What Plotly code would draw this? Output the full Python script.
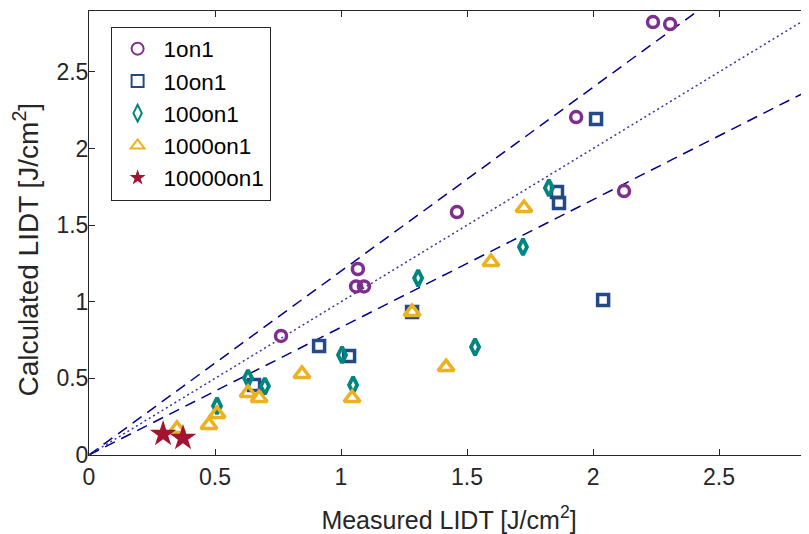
import plotly.graph_objects as go

# ---- data ----
x_1on1 = [2.238, 2.306, 1.933, 2.123, 1.460, 1.067, 1.060, 1.091, 0.762]
y_1on1 = [2.826, 2.813, 2.206, 1.723, 1.586, 1.214, 1.100, 1.100, 0.777]

x_10on1 = [2.012, 1.857, 1.865, 2.040, 1.282, 0.913, 1.032, 0.655]
y_10on1 = [2.193, 1.717, 1.645, 1.012, 0.933, 0.711, 0.646, 0.457]

x_100on1 = [1.825, 1.722, 1.306, 1.004, 1.532, 1.048, 0.631, 0.698, 0.508]
y_100on1 = [1.743, 1.358, 1.155, 0.653, 0.705, 0.457, 0.502, 0.450, 0.320]

x_1000on1 = [1.726, 1.595, 1.282, 1.417, 0.845, 1.044, 0.631, 0.675, 0.508, 0.476, 0.349]
y_1000on1 = [1.612, 1.260, 0.933, 0.574, 0.529, 0.372, 0.405, 0.372, 0.268, 0.196, 0.170]

x_10000on1 = [0.294, 0.373]
y_10000on1 = [0.137, 0.111]

ref_x = [0, 3.2]
slope_upper = 1.2
slope_lower = 1 / 1.2

x_ticks = [0, 0.5, 1, 1.5, 2, 2.5]
y_ticks = [0, 0.5, 1, 1.5, 2, 2.5]
x_range = [0, 2.857]
y_range = [0, 2.898]

FONT = "Liberation Sans"
TXT = "#262626"

fig = go.Figure()

# reference lines
fig.add_trace(go.Scatter(x=ref_x, y=[slope_upper * v for v in ref_x], mode="lines",
                         line=dict(color="#00008B", width=1.5, dash="11px,7px"),
                         showlegend=False, hoverinfo="skip"))
fig.add_trace(go.Scatter(x=ref_x, y=[slope_lower * v for v in ref_x], mode="lines",
                         line=dict(color="#00008B", width=1.5, dash="11px,7px"),
                         showlegend=False, hoverinfo="skip"))
fig.add_trace(go.Scatter(x=ref_x, y=ref_x, mode="lines",
                         line=dict(color="#3333AA", width=1.5, dash="2px,3px"),
                         showlegend=False, hoverinfo="skip"))

series = [
    ("1on1", x_1on1, y_1on1, "circle-open", "#7E2F8E", 11, 3.5),
    ("10on1", x_10on1, y_10on1, "square-open", "#234A86", 11, 3.5),
    ("100on1", x_100on1, y_100on1, "diamond-tall-open", "#008580", 11.5, 3.8),
    ("1000on1", x_1000on1, y_1000on1, "triangle-up-open", "#EDB120", 14, 3.5),
    ("10000on1", x_10000on1, y_10000on1, "star", "#A2142F", 20, 0),
]
for name, xs, ys, sym, col, size, lw in series:
    fig.add_trace(go.Scatter(x=xs, y=ys, mode="markers", name=name,
                             marker=dict(symbol=sym, color=col, size=size,
                                         line=dict(color=col, width=lw)),
                             cliponaxis=False))

axis_common = dict(showgrid=False, zeroline=False, showline=True, linecolor=TXT,
                   linewidth=1, ticks="inside", ticklen=6, tickcolor=TXT,
                   automargin=False,
                   tickfont=dict(family=FONT, size=23, color=TXT))

# page body has an 8px default margin: figure sized/offset to compensate
fig.update_layout(
    width=801, height=526,
    margin=dict(l=81, r=0, t=3, b=79),
    paper_bgcolor="white", plot_bgcolor="white",
    font=dict(family=FONT, color=TXT),
    xaxis=dict(range=x_range, tickvals=x_ticks, ticktext=[str(v) for v in x_ticks],
               mirror="ticks", ticklabelstandoff=1,
               title=dict(text="Measured LIDT [J/cm<sup>2</sup>]",
                          font=dict(family=FONT, size=25, color=TXT),
                          standoff=22),
               **axis_common),
    yaxis=dict(range=y_range, tickvals=y_ticks, ticktext=[str(v) for v in y_ticks],
               mirror=False, ticklabelstandoff=-5,
               **axis_common),
    legend=dict(x=0.03, y=0.965, xanchor="left", yanchor="top",
                bgcolor="white", bordercolor=TXT, borderwidth=1,
                font=dict(family=FONT, size=22.5, color="black"),
                itemsizing="constant", itemwidth=42, tracegroupgap=0),
    annotations=[dict(text="Calculated LIDT [J/cm<sup>2</sup>]", textangle=-90,
                      xref="paper", yref="paper", x=-0.088, y=0.462,
                      xanchor="center", yanchor="middle", showarrow=False,
                      font=dict(family=FONT, size=28, color=TXT))],
)

fig.write_html("out.html")
